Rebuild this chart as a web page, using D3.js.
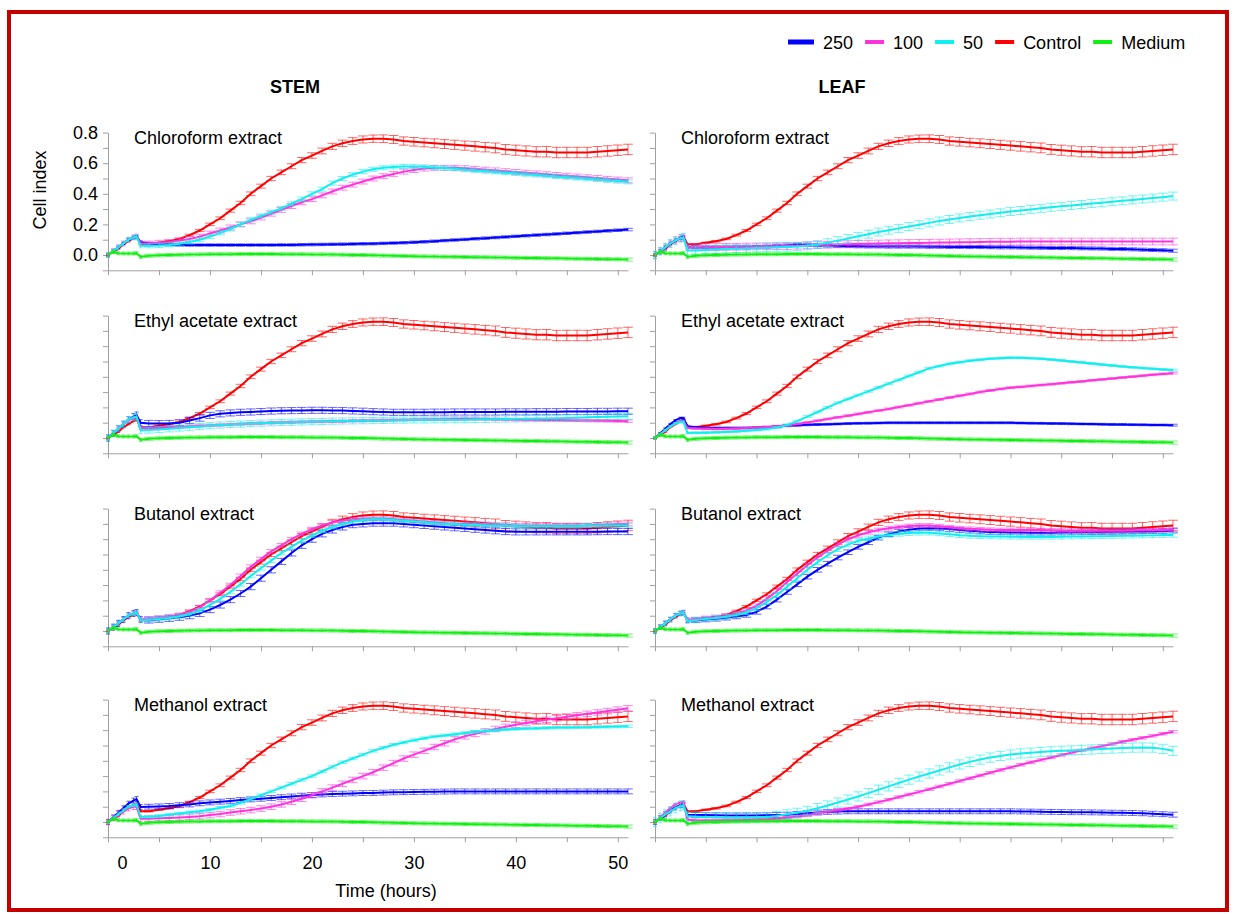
<!DOCTYPE html>
<html>
<head>
<meta charset="utf-8">
<script src="https://cdn.jsdelivr.net/npm/d3@7"></script>
<style>
  body { margin: 0; background: #fff; }
  svg text { font-family: Arial, "Liberation Sans", sans-serif; }
</style>
</head>
<body>
<div id="chart"></div>
<script>
// time points (hours)
const hours = [0, 0.5, 1, 1.5, 2, 2.5, 2.8, 3.2,
  4, 5, 6, 7, 8, 9, 10, 11, 12, 13, 14, 15, 16, 17, 18, 19, 20, 21, 22, 23, 24, 25, 26, 27,
  28, 29, 30, 31, 32, 33, 34, 35, 36, 37, 38, 39, 40, 41, 42, 43, 44, 45, 46, 47, 48, 49, 50, 51];

const seriesNames = ['250', '100', '50', 'Control', 'Medium'];
const seriesColors = ['#0000ff', '#ff33dd', '#11eeee', '#ff0000', '#11ee11'];

// same control and medium wells shown in every panel
const control = [0, .02, .04, .07, .09, .11, .12, .07,
  .07, .08, .09, .105, .13, .16, .20, .24,
  .29, .34, .40, .45, .50, .54, .58, .62,
  .65, .68, .71, .73, .745, .755, .76, .76,
  .755, .745, .74, .735, .73, .725, .72, .715,
  .71, .705, .70, .69, .685, .68, .675, .675,
  .67, .67, .67, .67, .675, .68, .685, .69];
const controlSd = [.003, .003, .003, .003, .003, .003, .003, .003,
  .004, .004, .005, .005, .006, .007, .008, .009,
  .01, .011, .012, .013, .014, .015, .016, .017,
  .018, .019, .02, .021, .022, .023, .024, .025,
  .026, .027, .028, .028, .029, .029, .03, .03,
  .031, .031, .032, .032, .033, .033, .033, .034,
  .034, .034, .034, .034, .034, .034, .034, .034];
const medium = [0, .02, .012, .01, .01, .01, .012, -.012,
  -.005, -.002, 0, .002, .003, .004, .005, .005,
  .005, .006, .006, .006, .006, .005, .005, .005,
  .004, .004, .003, .002, 0, 0, -.002, -.004,
  -.005, -.006, -.008, -.009, -.01, -.011, -.012, -.013,
  -.014, -.015, -.016, -.017, -.018, -.019, -.02, -.021,
  -.022, -.023, -.024, -.025, -.026, -.027, -.028, -.03];
const mediumSd = 0.01;

// STEM
const stemChloro250 = [0, .025, .05, .075, .10, .115, .12, .085,
  .075, .07, .068, .066, .065, .065, .065, .065,
  .065, .065, .065, .065, .065, .066, .066, .067,
  .068, .069, .07, .071, .072, .073, .074, .076,
  .078, .08, .083, .086, .09, .094, .098, .102,
  .106, .11, .114, .118, .122, .126, .13, .134,
  .138, .142, .146, .15, .154, .158, .162, .166];
const stemChloro100 = [0, .025, .05, .075, .10, .115, .12, .075,
  .075, .08, .085, .095, .105, .12, .14, .16,
  .18, .20, .22, .245, .27, .295, .32, .345,
  .365, .39, .415, .44, .46, .48, .50, .515,
  .53, .545, .555, .565, .57, .57, .57, .567,
  .563, .558, .553, .548, .543, .538, .533, .528,
  .523, .518, .513, .508, .503, .498, .493, .488];
const stemChloro50 = [0, .025, .05, .075, .10, .115, .12, .06,
  .06, .062, .066, .073, .085, .10, .12, .145,
  .17, .20, .23, .255, .28, .305, .335, .365,
  .40, .43, .47, .50, .525, .545, .56, .57,
  .575, .578, .578, .576, .572, .568, .563, .558,
  .553, .548, .543, .538, .533, .528, .523, .518,
  .513, .508, .503, .498, .493, .488, .483, .478];

const stemEthyl250 = [0, .03, .06, .09, .12, .14, .15, .10,
  .095, .094, .095, .10, .115, .13, .148, .158,
  .164, .168, .17, .173, .176, .178, .179, .18,
  .181, .181, .18, .179, .177, .175, .172, .17,
  .168, .168, .168, .168, .169, .169, .17, .17,
  .17, .17, .17, .171, .171, .171, .172, .172,
  .172, .173, .173, .173, .174, .174, .175, .175];
const stemEthyl100 = [0, .03, .06, .09, .115, .13, .135, .065,
  .065, .066, .068, .071, .075, .079, .082, .085,
  .088, .091, .094, .097, .099, .101, .103, .105,
  .107, .108, .109, .11, .112, .113, .115, .116,
  .117, .118, .12, .121, .122, .123, .124, .125,
  .125, .124, .123, .122, .121, .12, .119, .118,
  .117, .116, .115, .114, .113, .112, .111, .11];
const stemEthyl50 = [0, .03, .06, .09, .12, .135, .14, .05,
  .052, .055, .06, .065, .07, .075, .08, .085,
  .088, .091, .094, .097, .099, .101, .103, .105,
  .107, .108, .11, .111, .112, .113, .114, .115,
  .116, .117, .118, .118, .119, .119, .12, .12,
  .121, .122, .123, .124, .125, .126, .127, .128,
  .129, .131, .133, .135, .137, .139, .141, .142];

const stemButanol250 = [0, .025, .05, .075, .10, .115, .12, .075,
  .072, .077, .083, .09, .10, .115, .14, .17,
  .205, .245, .29, .345, .40, .455, .51, .56,
  .60, .635, .66, .68, .695, .70, .705, .705,
  .705, .70, .695, .69, .685, .68, .675, .67,
  .665, .66, .655, .65, .648, .648, .648, .648,
  .648, .648, .648, .648, .649, .65, .65, .65];
const stemButanol100 = [0, .025, .05, .075, .10, .115, .12, .075,
  .078, .085, .093, .105, .125, .155, .20, .25,
  .30, .36, .42, .47, .52, .56, .60, .635,
  .665, .69, .71, .72, .73, .735, .735, .735,
  .73, .725, .72, .715, .71, .705, .70, .70,
  .70, .70, .695, .695, .69, .69, .69, .69,
  .69, .69, .69, .69, .695, .695, .70, .70];
const stemButanol50 = [0, .025, .05, .075, .10, .115, .12, .07,
  .072, .078, .085, .095, .11, .135, .17, .21,
  .255, .305, .36, .41, .46, .51, .55, .59,
  .625, .655, .68, .70, .715, .725, .73, .73,
  .725, .72, .715, .71, .705, .70, .70, .695,
  .695, .69, .69, .69, .685, .685, .685, .685,
  .685, .685, .685, .69, .69, .69, .69, .69];

const stemMethanol250 = [0, .03, .06, .09, .12, .14, .15, .098,
  .10, .102, .105, .11, .115, .122, .128, .133,
  .138, .143, .148, .152, .157, .162, .167, .172,
  .176, .18, .183, .185, .187, .189, .19, .192,
  .194, .195, .196, .197, .198, .199, .20, .20,
  .20, .20, .20, .20, .20, .20, .20, .20,
  .20, .20, .20, .20, .20, .20, .20, .20];
const stemMethanol100 = [0, .025, .05, .07, .09, .10, .10, .022,
  .022, .024, .026, .029, .033, .038, .045, .052,
  .062, .07, .078, .088, .10, .115, .132, .152,
  .175, .20, .225, .25, .275, .30, .325, .355,
  .385, .415, .44, .465, .49, .515, .54, .56,
  .576, .592, .608, .622, .635, .647, .658, .668,
  .678, .688, .698, .707, .716, .725, .734, .743];
const stemMethanol50 = [0, .025, .05, .075, .10, .11, .115, .033,
  .035, .04, .047, .055, .063, .07, .08, .093,
  .105, .125, .15, .175, .20, .225, .25, .275,
  .30, .33, .36, .39, .415, .44, .465, .485,
  .505, .52, .535, .548, .558, .566, .574, .582,
  .59, .595, .60, .605, .608, .611, .613, .615,
  .617, .618, .619, .62, .621, .622, .624, .626];

// LEAF
const leafChloro250 = [0, .025, .05, .075, .095, .11, .115, .05,
  .05, .05, .05, .05, .05, .05, .052, .055,
  .058, .062, .065, .066, .064, .062, .06, .058,
  .057, .056, .056, .055, .055, .055, .055, .054,
  .054, .053, .053, .052, .052, .051, .05, .05,
  .049, .048, .047, .046, .046, .045, .044, .043,
  .042, .04, .039, .037, .035, .033, .031, .028];
const leafChloro100 = [0, .025, .05, .075, .095, .11, .115, .05,
  .05, .051, .052, .053, .054, .055, .056, .057,
  .058, .059, .061, .063, .065, .067, .069, .071,
  .073, .074, .075, .076, .077, .078, .079, .08,
  .081, .082, .083, .084, .085, .086, .087, .087,
  .088, .088, .088, .088, .088, .088, .088, .088,
  .088, .088, .088, .088, .088, .088, .088, .088];
const leafChloro50 = [0, .025, .05, .075, .095, .11, .115, .03,
  .03, .033, .036, .039, .042, .044, .046, .048,
  .05, .052, .055, .06, .068, .08, .094, .108,
  .122, .136, .15, .162, .174, .186, .198, .21,
  .222, .232, .242, .252, .26, .268, .276, .284,
  .291, .298, .305, .312, .318, .324, .33, .336,
  .342, .348, .354, .36, .366, .372, .378, .385];

const leafEthyl250 = [0, .03, .06, .09, .115, .13, .13, .077,
  .07, .066, .066, .066, .066, .066, .068, .07,
  .075, .08, .083, .086, .088, .09, .092, .094,
  .096, .097, .098, .099, .099, .099, .099, .099,
  .099, .099, .099, .099, .099, .099, .099, .099,
  .098, .097, .096, .095, .094, .093, .092, .091,
  .09, .089, .088, .087, .086, .085, .085, .084];
const leafEthyl100 = [0, .025, .05, .075, .095, .11, .11, .066,
  .062, .06, .059, .06, .062, .065, .068, .072,
  .077, .083, .092, .102, .113, .124, .135, .146,
  .157, .168, .179, .19, .202, .214, .227, .24,
  .252, .264, .276, .288, .30, .311, .321, .329,
  .334, .34, .346, .352, .358, .364, .37, .377,
  .383, .389, .395, .401, .407, .413, .419, .424];
const leafEthyl50 = [0, .025, .05, .075, .095, .105, .105, .033,
  .034, .035, .037, .04, .043, .047, .052, .058,
  .068, .085, .11, .14, .17, .20, .23, .255,
  .28, .305, .33, .355, .38, .405, .43, .455,
  .47, .485, .495, .505, .512, .518, .522, .525,
  .524, .522, .518, .513, .507, .50, .494, .487,
  .48, .474, .468, .462, .457, .452, .448, .444];

const leafButanol250 = [0, .025, .05, .075, .10, .115, .12, .07,
  .07, .075, .08, .087, .095, .105, .125, .16,
  .205, .255, .305, .355, .40, .44, .48, .515,
  .55, .58, .61, .633, .65, .662, .67, .672,
  .67, .666, .66, .655, .65, .647, .645, .644,
  .643, .642, .642, .642, .643, .644, .645, .646,
  .647, .648, .649, .65, .651, .652, .654, .656];
const leafButanol100 = [0, .025, .05, .075, .10, .115, .12, .072,
  .078, .085, .092, .10, .115, .135, .165, .21,
  .26, .32, .375, .43, .48, .525, .565, .60,
  .625, .645, .66, .672, .68, .686, .69, .69,
  .685, .678, .672, .668, .665, .662, .66, .66,
  .66, .66, .66, .658, .657, .656, .655, .655,
  .655, .655, .656, .657, .658, .659, .66, .662];
const leafButanol50 = [0, .025, .05, .075, .10, .115, .12, .065,
  .072, .078, .085, .093, .105, .122, .15, .19,
  .235, .29, .345, .40, .45, .495, .535, .565,
  .59, .605, .618, .628, .635, .64, .642, .642,
  .638, .632, .626, .622, .62, .618, .617, .616,
  .615, .615, .615, .615, .616, .617, .618, .619,
  .62, .621, .622, .623, .624, .625, .627, .628];

const leafMethanol250 = [0, .025, .05, .075, .095, .108, .113, .048,
  .046, .045, .044, .043, .043, .043, .043, .044,
  .046, .048, .052, .057, .062, .066, .068, .07,
  .07, .07, .07, .07, .07, .07, .07, .07,
  .07, .07, .07, .07, .07, .07, .07, .07,
  .069, .068, .067, .066, .065, .064, .064, .063,
  .062, .061, .06, .059, .057, .054, .051, .048];
const leafMethanol100 = [0, .03, .06, .09, .115, .128, .13, .015,
  .012, .01, .01, .011, .012, .013, .015, .018,
  .022, .027, .035, .045, .057, .068, .078, .088,
  .10, .115, .13, .146, .163, .18, .197, .214,
  .232, .25, .268, .286, .304, .322, .34, .357,
  .374, .39, .406, .422, .438, .453, .468, .482,
  .496, .51, .524, .537, .55, .563, .577, .59];
const leafMethanol50 = [0, .025, .05, .07, .09, .105, .11, .037,
  .035, .033, .031, .03, .03, .03, .031, .033,
  .04, .05, .06, .073, .09, .108, .127, .147,
  .167, .189, .211, .233, .255, .277, .297, .317,
  .337, .357, .376, .393, .408, .421, .432, .441,
  .448, .453, .458, .462, .465, .468, .471, .474,
  .477, .48, .483, .486, .487, .486, .478, .465];

const panelTitles = ['Chloroform extract', 'Ethyl acetate extract', 'Butanol extract', 'Methanol extract'];
const columnTitles = ['STEM', 'LEAF'];
const stemSeries = [
  [stemChloro250, stemChloro100, stemChloro50],
  [stemEthyl250, stemEthyl100, stemEthyl50],
  [stemButanol250, stemButanol100, stemButanol50],
  [stemMethanol250, stemMethanol100, stemMethanol50]
];
const leafSeries = [
  [leafChloro250, leafChloro100, leafChloro50],
  [leafEthyl250, leafEthyl100, leafEthyl50],
  [leafButanol250, leafButanol100, leafButanol50],
  [leafMethanol250, leafMethanol100, leafMethanol50]
];
// standard deviations per panel for 250, 100, 50
const stemSd = [[.008, .016, .013], [.02, .008, .02], [.02, .012, .012], [.016, .018, .008]];
const leafSd = [[.01, .022, .026], [.006, .006, .006], [.015, .012, .015], [.016, .008, .03]];

const yTicks = [-0.1, 0, 0.1, 0.2, 0.3, 0.4, 0.5, 0.6, 0.7, 0.8];
const xTicks = [0, 5, 10, 15, 20, 25, 30, 35, 40, 45, 50];

// ---- layout ----
const W = 1237, H = 914;
const colRange = [[108, 628], [655, 1173]];
const rowZero = [255, 438, 631, 822];
const tenth = 15.3;
const AXIS = '#a0a0a0';

const svg = d3.select('#chart').append('svg')
  .attr('width', W).attr('height', H);

svg.append('rect')
  .attr('x', 9).attr('y', 12).attr('width', 1218).attr('height', 898)
  .attr('fill', 'none').attr('stroke', '#c40000').attr('stroke-width', 4);

function drawPanel(col, row, treat, sds) {
  const x = d3.scaleLinear().domain([0, 51]).range(colRange[col]);
  const z = rowZero[row];
  const y = d3.scaleLinear().domain([-0.1, 0.8]).range([z + tenth, z - 8 * tenth]);
  const g = svg.append('g');

  const showX = col === 0 && row === 3;
  const showY = col === 0 && row === 0;

  const xAxis = g.append('g')
    .attr('transform', `translate(0,${y(-0.1)})`)
    .call(d3.axisBottom(x).tickValues(xTicks).tickSize(5).tickSizeOuter(0).tickPadding(14)
      .tickFormat(d => showX && d % 10 === 0 ? d : ''));
  const yAxis = g.append('g')
    .attr('transform', `translate(${colRange[col][0]},0)`)
    .call(d3.axisLeft(y).tickValues(yTicks).tickSize(5).tickSizeOuter(0).tickPadding(5)
      .tickFormat(d => showY && d >= 0 && Math.round(d * 10) % 2 === 0 ? d3.format('.1f')(d) : ''));
  [xAxis, yAxis].forEach(a => {
    a.select('.domain').attr('stroke', AXIS);
    a.selectAll('.tick line').attr('stroke', AXIS);
    a.selectAll('.tick text').attr('fill', '#000').attr('font-size', 18)
      .attr('font-family', 'Arial, "Liberation Sans", sans-serif');
  });
  if (showX) xAxis.selectAll('.tick text').filter(d => d === 0).attr('dx', 14);

  g.append('text')
    .attr('x', colRange[col][0] + 26).attr('y', y(0.8) + 11)
    .attr('font-size', 18).text(panelTitles[row]);

  const line = d3.line().x((d, i) => x(hours[i])).y(d => y(d));

  // control, 250, 100, 50, medium
  const series = [
    { v: control, sd: controlSd, c: seriesColors[3] },
    { v: treat[0], sd: sds[0], c: seriesColors[0] },
    { v: treat[1], sd: sds[1], c: seriesColors[1] },
    { v: treat[2], sd: sds[2], c: seriesColors[2] },
    { v: medium, sd: mediumSd, c: seriesColors[4] }
  ];

  series.forEach(s => {
    const sdAt = i => Array.isArray(s.sd) ? s.sd[i] : s.sd;
    const eb = g.append('g').attr('stroke', s.c).attr('stroke-opacity', 0.6).attr('stroke-width', 1);
    s.v.forEach((v, i) => {
      const xi = x(hours[i]);
      const lo = y(v - sdAt(i)), hi = y(v + sdAt(i));
      const cap = hours[i] < 4 ? 2 : 4.8;
      eb.append('line').attr('x1', xi).attr('x2', xi).attr('y1', lo).attr('y2', hi);
      eb.append('line').attr('x1', xi - cap).attr('x2', xi + cap).attr('y1', lo).attr('y2', lo);
      eb.append('line').attr('x1', xi - cap).attr('x2', xi + cap).attr('y1', hi).attr('y2', hi);
    });
    g.append('path').datum(s.v)
      .attr('fill', 'none').attr('stroke', s.c).attr('stroke-width', 2)
      .attr('d', line);
  });
}

for (let r = 0; r < 4; r++) {
  drawPanel(0, r, stemSeries[r], stemSd[r]);
  drawPanel(1, r, leafSeries[r], leafSd[r]);
}

// column titles
columnTitles.forEach((t, i) => {
  svg.append('text')
    .attr('x', colRange[i][0] + 187).attr('y', 93)
    .attr('text-anchor', 'middle').attr('font-size', 18).attr('font-weight', 'bold')
    .text(t);
});

// axis titles
svg.append('text')
  .attr('transform', 'translate(46,190) rotate(-90)')
  .attr('text-anchor', 'middle').attr('font-size', 18).text('Cell index');
svg.append('text')
  .attr('x', 386).attr('y', 897)
  .attr('text-anchor', 'middle').attr('font-size', 18).text('Time (hours)');

// legend
const legend = svg.append('g').attr('transform', 'translate(788,42)');
let lx = 0;
seriesNames.forEach((n, i) => {
  legend.append('line')
    .attr('x1', lx).attr('x2', lx + (i === 0 ? 26 : 19)).attr('y1', 0).attr('y2', 0)
    .attr('stroke', seriesColors[i]).attr('stroke-width', i === 0 ? 5 : 4);
  lx += (i === 0 ? 26 : 19) + 9;
  const t = legend.append('text').attr('x', lx).attr('y', 6.5)
    .attr('font-size', 18).text(n);
  lx += t.node().getComputedTextLength() + 12;
});
</script>
</body>
</html>
